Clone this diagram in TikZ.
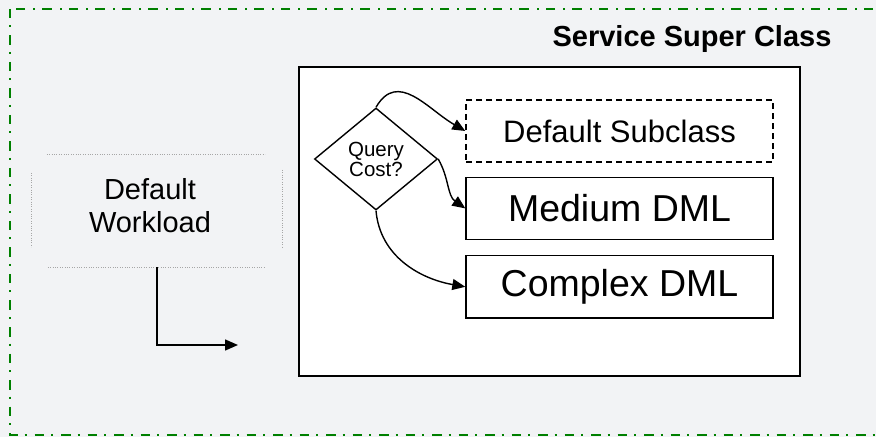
\documentclass[tikz,border=0pt]{standalone}
\usepackage{fontspec}
\setmainfont{Liberation Sans}
\usepackage{xcolor}
\usepackage{tikz}
\usetikzlibrary{shapes,arrows.meta,positioning,calc,shapes.geometric}
\definecolor{bggray}{RGB}{242,243,245}
\definecolor{framegreen}{RGB}{0,128,0}

\begin{document}
\begin{tikzpicture}[x=1pt, y=1pt, >={Triangle[length=13pt,width=11pt]}]
    \tikzstyle{cls} = [rectangle, minimum width=307pt, minimum height=62pt, text centered, draw=black, line width=1.4pt, fill=white, font=\fontsize{37.5}{37.5}\selectfont]
    \tikzstyle{decision} = [diamond, minimum width=123pt, minimum height=102pt, inner sep=0pt, draw=black, line width=1.4pt, fill=white, align=center, font=\fontsize{20.5}{20}\selectfont]
    \tikzstyle{hint} = [gray!70, line width=0.8pt, dash pattern=on 0.8pt off 1.6pt]
    \tikzstyle{arrow} = [line width=1.4pt, ->]

    \useasboundingbox (0,0) rectangle (876,437);
    \clip (0,0) rectangle (876,437);
    \fill [bggray] (0,0) rectangle (876,437);
    \draw [draw=framegreen, line width=2pt, dash pattern=on 9.5pt off 7pt on 2pt off 8pt] (10,428) rectangle (890,2);

    \node (super) [rectangle, draw=black, line width=1.6pt, fill=white, minimum width=501pt, minimum height=309pt, anchor=north west] at (298,371) {};
    \node (title) [anchor=base east, font=\fontsize{29}{29}\selectfont\bfseries] at (835,390) {Service Super Class};

    \node (query) [decision] at (376,278) {Query\\Cost?};
    \node (sub1) [cls, dash pattern=on 6pt off 4pt, font=\fontsize{31}{31}\selectfont] at (619.5,306) {Default Subclass};
    \node (sub2) [cls, below=14pt of sub1] {Medium DML};
    \node (sub3) [cls, below=15pt of sub2] {Complex DML};

    % default workload
    \node (load) [minimum width=250pt, minimum height=112pt] at (157,226) {};
    \node (loadtext) [align=center, font=\fontsize{29}{33}\selectfont] at (150,231) {Default\\Workload};
    \draw [hint] ($(load.north west)+(15,0)$) -- ($(load.north east)+(-17,0)$);
    \draw [hint] ($(load.south west)+(16,0)$) -- ($(load.south east)+(-17,0)$);
    \draw [hint] ($(load.north west)+(0,-18)$) -- ($(load.south west)+(0,20)$);
    \draw [hint] ($(load.north east)+(0,-15)$) -- ($(load.south east)+(0,20)$);
    \coordinate (entry) at (238,92);

    \draw [arrow] (load.south) |- (entry);
    \draw [arrow] (query.north) to[out=60, in=150, looseness=1.2] (sub1.west);
    \draw [arrow] (query.east) to[out=-60, in=145] (sub2.west);
    \draw [arrow] (query.south) to[out=-85, in=170] (sub3.west);
\end{tikzpicture}
\end{document}
